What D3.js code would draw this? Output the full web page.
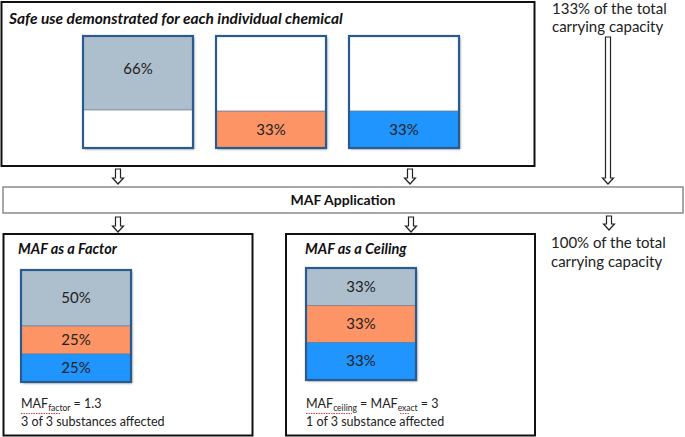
<!DOCTYPE html>
<html>
<head>
<meta charset="utf-8">
<script src="https://cdn.jsdelivr.net/npm/d3@7"></script>
<style>
  html, body { margin: 0; padding: 0; background: #fff; }
  svg { display: block; font-family: Lato, "Open Sans", sans-serif; }
</style>
</head>
<body>
<svg id="chart" width="685" height="437"></svg>
<script>
// ---- data ----
const chemicals = ["Chemical 1", "Chemical 2", "Chemical 3"];
const chemicalColors = ["#adbfcc", "#fd9465", "#1f95fd"];
const individualStart = [34, 0, 0];      // where each filled segment starts (%)
const individualValues = [66, 33, 33];   // filled share (%)
const individualLabels = ["66%", "33%", "33%"];

const stackOrder = ["Chemical 1", "Chemical 2", "Chemical 3"]; // top to bottom
const factorValues = [50, 25, 25];
const factorLabels = ["50%", "25%", "25%"];
const ceilingValues = [33.3, 33.3, 33.3];
const ceilingLabels = ["33%", "33%", "33%"];

const topTitle = "Safe use demonstrated for each individual chemical";
const middleTitle = "MAF Application";
const factorTitle = "MAF as a Factor";
const ceilingTitle = "MAF as a Ceiling";
const capacityTop = ["133% of the total", "carrying capacity"];
const capacityBottom = ["100% of the total", "carrying capacity"];

// ---- setup ----
const svg = d3.select("#chart");
const defs = svg.append("defs");
const f = defs.append("filter").attr("id", "shadow").attr("x", "-10%").attr("y", "-10%").attr("width", "130%").attr("height", "130%");
f.append("feDropShadow").attr("dx", 1.5).attr("dy", 1.5).attr("stdDeviation", 1.2).attr("flood-color", "#000").attr("flood-opacity", 0.35);

const color = d3.scaleOrdinal().domain(chemicals).range(chemicalColors);
const barH = 112;
const y = d3.scaleLinear().domain([0, 100]).range([barH, 0]);
const barStroke = "#2a5b90";

// ---- boxes ----
svg.append("rect").attr("x", 1.5).attr("y", 2).attr("width", 533).attr("height", 164)
  .attr("fill", "#fff").attr("stroke", "#111").attr("stroke-width", 2);
svg.append("rect").attr("x", 3).attr("y", 187).attr("width", 680).attr("height", 26)
  .attr("fill", "#fff").attr("stroke", "#8a8a8a").attr("stroke-width", 1.5);
svg.append("rect").attr("x", 3.5).attr("y", 234).attr("width", 249).attr("height", 201.5)
  .attr("fill", "#fff").attr("stroke", "#111").attr("stroke-width", 2);
svg.append("rect").attr("x", 286).attr("y", 234).attr("width", 249).attr("height", 201.5)
  .attr("fill", "#fff").attr("stroke", "#111").attr("stroke-width", 2);

// titles
svg.append("text").attr("x", 9).attr("y", 24).attr("font-size", 15.5)
  .attr("font-weight", "bold").attr("font-style", "italic").attr("fill", "#111").text(topTitle);
svg.append("text").attr("x", 343).attr("y", 205).attr("text-anchor", "middle").attr("font-size", 14)
  .attr("font-weight", "bold").attr("fill", "#111").text(middleTitle);
svg.append("text").attr("x", 18).attr("y", 254).attr("font-size", 14.5)
  .attr("font-weight", "bold").attr("font-style", "italic").attr("fill", "#111").text(factorTitle);
svg.append("text").attr("x", 305).attr("y", 254).attr("font-size", 14.5)
  .attr("font-weight", "bold").attr("font-style", "italic").attr("fill", "#111").text(ceilingTitle);

// capacity notes
function lines(arr, x, y0, dy) {
  const t = svg.append("text").attr("x", x).attr("y", y0).attr("font-size", 15).attr("fill", "#222");
  arr.forEach((s, i) => t.append("tspan").attr("x", x).attr("dy", i === 0 ? 0 : dy).text(s));
}
lines(capacityTop, 552, 14, 18);
lines(capacityBottom, 551, 248, 19);

// ---- top individual bars ----
const xTop = d3.scaleBand().domain(chemicals).range([83, 459]).paddingInner(23 / 133).paddingOuter(0);
const topY = 36;
const gTop = svg.append("g").attr("transform", `translate(0,${topY})`);
const topBars = gTop.selectAll("g.bar").data(chemicals).join("g").attr("class", "bar")
  .attr("transform", d => `translate(${xTop(d)},0)`);
topBars.append("rect").attr("width", xTop.bandwidth()).attr("height", barH)
  .attr("fill", "#fff").attr("filter", "url(#shadow)");
topBars.append("rect")
  .attr("y", (d, i) => y(individualStart[i] + individualValues[i]))
  .attr("width", xTop.bandwidth())
  .attr("height", (d, i) => y(individualStart[i]) - y(individualStart[i] + individualValues[i]))
  .attr("fill", d => color(d)).attr("stroke", "#5d7a99").attr("stroke-width", 0.8);
topBars.append("rect").attr("width", xTop.bandwidth()).attr("height", barH)
  .attr("fill", "none").attr("stroke", barStroke).attr("stroke-width", 2.2);
topBars.append("text")
  .attr("x", xTop.bandwidth() / 2)
  .attr("y", (d, i) => (y(individualStart[i] + individualValues[i]) + y(individualStart[i])) / 2 + (i === 0 ? 1 : 5))
  .attr("text-anchor", "middle").attr("font-size", 15).attr("fill", "#222")
  .text((d, i) => individualLabels[i]);

// ---- stacked bars ----
function stackBar(x0, y0, values, labels) {
  const g = svg.append("g").attr("transform", `translate(${x0},${y0})`);
  const total = d3.sum(values);
  const ys = d3.scaleLinear().domain([0, total]).range([0, barH]);
  let acc = 0;
  const segs = values.map((v, i) => { const s = { key: stackOrder[i], start: acc, v, label: labels[i] }; acc += v; return s; });
  g.append("rect").attr("width", 110).attr("height", barH).attr("fill", "#fff").attr("filter", "url(#shadow)");
  g.selectAll("rect.seg").data(segs).join("rect").attr("class", "seg")
    .attr("y", d => ys(d.start)).attr("width", 110).attr("height", d => ys(d.start + d.v) - ys(d.start))
    .attr("fill", d => color(d.key)).attr("stroke", "#5d7a99").attr("stroke-width", 0.6);
  g.append("rect").attr("width", 110).attr("height", barH).attr("fill", "none")
    .attr("stroke", barStroke).attr("stroke-width", 2.2);
  g.selectAll("text.lab").data(segs).join("text").attr("class", "lab")
    .attr("x", 55).attr("y", d => ys(d.start + d.v / 2) + 5)
    .attr("text-anchor", "middle").attr("font-size", 15).attr("fill", "#222").text(d => d.label);
}
stackBar(21, 270, factorValues, factorLabels);
stackBar(306, 268, ceilingValues, ceilingLabels);

// ---- formula text ----
function formula(x, yb, parts) {
  const t = svg.append("text").attr("x", x).attr("y", yb).attr("font-size", 12.5).attr("fill", "#222");
  parts.forEach(p => {
    const ts = t.append("tspan").text(p.t);
    if (p.sub) ts.attr("font-size", 8.5).attr("dy", 2.5);
    else if (p.after) ts.attr("dy", -2.5);
  });
  return t;
}
formula(21, 408, [{ t: "MAF" }, { t: "factor", sub: true }, { t: " = 1.3", after: true }]);
svg.append("text").attr("x", 21).attr("y", 426).attr("font-size", 12.5).attr("fill", "#222").text("3 of 3 substances affected");
formula(306, 408, [{ t: "MAF" }, { t: "ceiling", sub: true }, { t: " = MAF", after: true }, { t: "exact", sub: true }, { t: " = 3", after: true }]);
svg.append("text").attr("x", 306).attr("y", 426).attr("font-size", 12.5).attr("fill", "#222").text("1 of 3 substance affected");

// spell-check squiggles
[[21, 60], [306, 352], [400, 410]].forEach(([a, b]) => {
  svg.append("line").attr("x1", a).attr("x2", b).attr("y1", 413.5).attr("y2", 413.5)
    .attr("stroke", "#e04040").attr("stroke-width", 1).attr("stroke-dasharray", "1.5,1");
});

// ---- hollow arrows ----
function arrow(cx, y1, y2) {
  const sw = 2.5, hw = 5.5, hh = 6;
  const p = d3.path();
  p.moveTo(cx - sw, y1); p.lineTo(cx + sw, y1); p.lineTo(cx + sw, y2 - hh);
  p.lineTo(cx + hw, y2 - hh); p.lineTo(cx, y2); p.lineTo(cx - hw, y2 - hh);
  p.lineTo(cx - sw, y2 - hh); p.closePath();
  svg.append("path").attr("d", p.toString()).attr("fill", "#fff").attr("stroke", "#222").attr("stroke-width", 1.2);
}
arrow(118, 169, 184);
arrow(410, 169, 184);
arrow(608, 37, 184);
arrow(118, 217, 232);
arrow(411, 217, 232);
arrow(609, 216, 230);
</script>
</body>
</html>
